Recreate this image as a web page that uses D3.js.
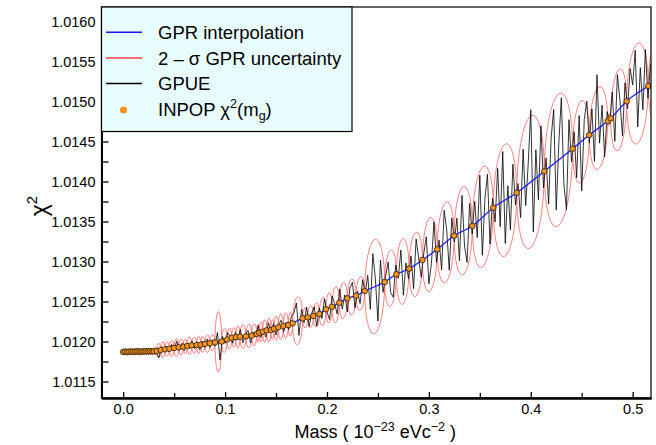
<!DOCTYPE html>
<html>
<head>
<meta charset="utf-8">
<script src="https://d3js.org/d3.v7.min.js"></script>
<style>
body { margin: 0; background: #fff; }
text { font-family: "Liberation Sans", Arial, sans-serif; fill: #000; }
</style>
</head>
<body>
<div id="chart-area"></div>
<script>

// INPOP chi2 points (mass in 1e-23 eV c^-2)
let inpopMass = [0.000, 0.002, 0.004, 0.006, 0.008, 0.010, 0.012, 0.014, 0.016, 0.018, 0.020, 0.022, 0.024, 0.026, 0.028, 0.030,
	0.0329, 0.0368, 0.0410, 0.0453, 0.0499, 0.0545, 0.0590, 0.0629, 0.0672, 0.0721, 0.0760, 0.0802, 0.0851, 0.0901,
	0.0966, 0.1020,
	0.1065, 0.1106, 0.1146, 0.1205, 0.1261, 0.1310, 0.1336, 0.1369, 0.1408, 0.1450, 0.1480, 0.1522, 0.1571, 0.1620, 0.1663,
	0.1761, 0.1811, 0.1866, 0.1925, 0.1990, 0.2049, 0.2121, 0.2199, 0.2285, 0.2370,
	0.2566, 0.2681, 0.2805, 0.2937, 0.3082, 0.3248, 0.3426, 0.3632, 0.3862, 0.4133, 0.4411, 0.4574, 0.4755, 0.4784, 0.4941, 0.5153, 0.5350];
let inpopChi2 = [1.011870, 1.011873, 1.011868, 1.011872, 1.011875, 1.011871, 1.011874, 1.011877, 1.011872, 1.011876, 1.011874, 1.011878, 1.011875, 1.011879, 1.011876, 1.011878,
	1.011881, 1.011894, 1.011903, 1.011910, 1.011919, 1.011928, 1.011935, 1.011944, 1.011953, 1.011956, 1.011960, 1.011969, 1.011978, 1.011989,
	1.012000, 1.012025,
	1.012048, 1.012054, 1.012060, 1.012065, 1.012073, 1.012094, 1.012110, 1.012123, 1.012140, 1.012144, 1.012160, 1.012178, 1.012194, 1.012206, 1.012228,
	1.012290, 1.012303, 1.012319, 1.012344, 1.012403, 1.012435, 1.012485, 1.012540, 1.012573, 1.012631,
	1.012744, 1.012840, 1.012910, 1.013019, 1.013153, 1.013323, 1.013444, 1.013673, 1.013860, 1.014128, 1.014410, 1.014581, 1.014756, 1.014790, 1.015003, 1.015194, 1.015369];

// 2-sigma half width of the GPR band between two neighbouring INPOP points
let bandHalf = [0.00004, 0.00004, 0.00004, 0.00004, 0.00004, 0.00004, 0.00004, 0.00004, 0.00004, 0.00004, 0.00004, 0.00004, 0.00004, 0.00004, 0.00004,
	0.00005,
	0.00009, 0.0001, 0.00009, 0.0001, 0.00011, 0.0001, 0.00009, 0.00011, 0.0001, 0.00011, 0.0001, 0.00011, 0.0001,
	0.00038, 0.00015, 0.00013,
	0.000125, 0.00014, 0.00015, 0.00015, 0.00014, 0.00011, 0.000125, 0.00014, 0.00015, 0.000125, 0.00015, 0.00016, 0.00016, 0.00015,
	0.0003,
	0.000125, 0.00014, 0.00015, 0.000175, 0.00019, 0.000225, 0.000225, 0.000225, 0.00021,
	0.00059,
	0.00035, 0.00041, 0.0004, 0.00046, 0.0005, 0.00055, 0.000625, 0.0007, 0.000825, 0.000825, 0.00051, 0.00051, 0.000075, 0.0005, 0.000625, 0.00056];

// GPUE curve, one value every 0.0025 starting at mass 0
let gpueStart = 0, gpueStep = 0.0025;
let gpueChi2 = [1.011870, 1.011886, 1.011861, 1.011892, 1.011858, 1.011884, 1.011854, 1.011890, 1.011865, 1.011896,
	1.011862, 1.011887, 1.011883, 1.011861, 1.011797, 1.011934, 1.011870, 1.011940, 1.011870, 1.011965,
	1.011889, 1.012004, 1.011888, 1.011977, 1.011887, 1.011982, 1.011913, 1.012008, 1.011910, 1.011997,
	1.011899, 1.012007, 1.011927, 1.012032, 1.011928, 1.012023, 1.011942, 1.012112, 1.011767, 1.012064,
	1.011976, 1.012109, 1.012061, 1.011979, 1.012113, 1.012027, 1.012150, 1.011983, 1.012096, 1.012139,
	1.011982, 1.012120, 1.012059, 1.012201, 1.012052, 1.012144, 1.012056, 1.012236, 1.012114, 1.012223,
	1.012081, 1.012209, 1.012266, 1.012123, 1.012240, 1.012149, 1.012311, 1.012355, 1.012481, 1.012076,
	1.012402, 1.012235, 1.012432, 1.012188, 1.012355, 1.012435, 1.012192, 1.012419, 1.012286, 1.012533,
	1.012369, 1.012275, 1.012570, 1.012476, 1.012342, 1.012658, 1.012406, 1.012583, 1.012371, 1.012670,
	1.012740, 1.012419, 1.012628, 1.012475, 1.012772, 1.012594, 1.012828, 1.012403, 1.013097, 1.012782,
	1.012256, 1.013020, 1.012615, 1.012810, 1.012992, 1.012613, 1.012554, 1.012955, 1.012790, 1.013144,
	1.012578, 1.012982, 1.012787, 1.013070, 1.012661, 1.013282, 1.013042, 1.012803, 1.013105, 1.013308,
	1.012721, 1.012974, 1.013497, 1.012990, 1.013268, 1.012894, 1.013639, 1.013395, 1.012891, 1.013546,
	1.013245, 1.013542, 1.013009, 1.013826, 1.013193, 1.012990, 1.013727, 1.013344, 1.013752, 1.013300,
	1.014078, 1.013076, 1.013784, 1.014091, 1.013219, 1.013787, 1.013494, 1.014164, 1.013435, 1.014375,
	1.013225, 1.013946, 1.013396, 1.014216, 1.013707, 1.013975, 1.013548, 1.014403, 1.013698, 1.014223,
	1.014897, 1.013372, 1.014397, 1.013772, 1.014696, 1.013921, 1.014295, 1.013720, 1.014546, 1.014901,
	1.013646, 1.014472, 1.015047, 1.013972, 1.013648, 1.014773, 1.014248, 1.014622, 1.014048, 1.014824,
	1.013881, 1.014777, 1.015003, 1.014484, 1.014908, 1.014252, 1.015336, 1.014480, 1.014954, 1.014309,
	1.014873, 1.014725, 1.015118, 1.014501, 1.015335, 1.015018, 1.014571, 1.015234, 1.014911, 1.015413,
	1.015206, 1.015638, 1.014681, 1.015423, 1.014896, 1.015648, 1.015041, 1.015466];

let xTicks = [0, 0.1, 0.2, 0.3, 0.4, 0.5];
let xMinorTicks = [0.05, 0.15, 0.25, 0.35, 0.45];
let yTicks = [1.0115, 1.0120, 1.0125, 1.0130, 1.0135, 1.0140, 1.0145, 1.0150, 1.0155, 1.0160];
let yMinorTicks = [1.01175, 1.01225, 1.01275, 1.01325, 1.01375, 1.01425, 1.01475, 1.01525, 1.01575];

// SVG size
let width = 656,
	height = 445;
let plot = {left: 101.5, right: 651, top: 7, bottom: 398};

let svg = d3.select("#chart-area")
	.append("svg")
	.attr("width", width)
	.attr("height", height);

let x = d3.scaleLinear()
	.domain([-0.0213, 0.518])
	.range([plot.left, plot.right]);
let y = d3.scaleLinear()
	.domain([1.011294, 1.016181])
	.range([plot.bottom, plot.top]);

svg.append("clipPath")
	.attr("id", "plot-clip")
	.append("rect")
	.attr("x", plot.left)
	.attr("y", plot.top)
	.attr("width", plot.right - plot.left)
	.attr("height", plot.bottom - plot.top);

let g = svg.append("g").attr("clip-path", "url(#plot-clip)");

let points = inpopMass.map((m, i) => ({m: m, chi: inpopChi2[i]}));

// red 2-sigma band: one lens between each pair of neighbouring points
let lenses = d3.pairs(points).map(([a, b], i) => ({a: a, b: b, half: bandHalf[i]}));
g.selectAll("ellipse.band")
	.data(lenses)
	.enter()
	.append("ellipse")
	.attr("class", "band")
	.attr("rx", d => (x(d.b.m) - x(d.a.m)) / 2)
	.attr("ry", d => y(d.a.chi) - y(d.a.chi + d.half))
	.attr("transform", d => {
		let x0 = x(d.a.m), x1 = x(d.b.m), y0 = y(d.a.chi), y1 = y(d.b.chi);
		let ang = Math.atan2(y1 - y0, x1 - x0) * 180 / Math.PI;
		return "translate(" + (x0 + x1) / 2 + "," + (y0 + y1) / 2 + ") skewY(" + ang + ")";
	})
	.attr("fill", "none")
	.attr("stroke", "#ff6262")
	.attr("stroke-width", 0.8)
	.attr("vector-effect", "non-scaling-stroke");

// GPUE
let gpue = gpueChi2.map((c, i) => ({m: gpueStart + i * gpueStep, chi: c}));
g.append("path")
	.datum(gpue)
	.attr("fill", "none")
	.attr("stroke", "#000")
	.attr("stroke-width", 0.8)
	.attr("d", d3.line().x(d => x(d.m)).y(d => y(d.chi)));

// GPR interpolation
g.append("path")
	.datum(points)
	.attr("fill", "none")
	.attr("stroke", "#1515ff")
	.attr("stroke-width", 1.2)
	.attr("d", d3.line().curve(d3.curveMonotoneX).x(d => x(d.m)).y(d => y(d.chi)));

g.selectAll("circle.inpop")
	.data(points)
	.enter()
	.append("circle")
	.attr("class", "inpop")
	.attr("cx", d => x(d.m))
	.attr("cy", d => y(d.chi))
	.attr("r", 2.8)
	.attr("fill", "#f39424")
	.attr("stroke", "#2e1a00")
	.attr("stroke-width", 0.8);

// frame
svg.append("rect")
	.attr("x", plot.left)
	.attr("y", plot.top)
	.attr("width", plot.right - plot.left)
	.attr("height", plot.bottom - plot.top)
	.attr("fill", "none")
	.attr("stroke", "#000")
	.attr("stroke-width", 1.2);

// axes (ticks point inward)
let xAxis = d3.axisBottom(x).tickValues(xTicks).tickFormat(d3.format(".1f"))
	.tickSizeInner(-6).tickSizeOuter(0).tickPadding(6);
let xMinor = d3.axisBottom(x).tickValues(xMinorTicks).tickFormat("")
	.tickSizeInner(-5).tickSizeOuter(0);
let yAxis = d3.axisLeft(y).tickValues(yTicks).tickFormat(d3.format(".4f"))
	.tickSizeInner(-7).tickSizeOuter(0).tickPadding(6);
let yMinor = d3.axisLeft(y).tickValues(yMinorTicks).tickFormat("")
	.tickSizeInner(-7).tickSizeOuter(0);

[xMinor, xAxis].forEach(ax => {
	svg.append("g")
		.attr("class", "axis x-axis")
		.attr("transform", "translate(0," + plot.bottom + ")")
		.call(ax);
});
[yMinor, yAxis].forEach(ax => {
	svg.append("g")
		.attr("class", "axis y-axis")
		.attr("transform", "translate(" + plot.left + ",0)")
		.call(ax);
});
svg.selectAll(".axis .domain").attr("stroke-width", 2);
svg.selectAll(".axis .tick line").attr("stroke-width", 1.3);
svg.selectAll(".axis text")
	.attr("font-size", "14.5px")
	.attr("font-family", "Liberation Sans, Arial, sans-serif");

// axis titles
let xTitle = svg.append("text")
	.attr("x", (plot.left + plot.right) / 2 - 1)
	.attr("y", 438)
	.attr("text-anchor", "middle")
	.attr("font-size", "18px");
xTitle.append("tspan").text("Mass ( 10");
xTitle.append("tspan").attr("dy", -7).attr("font-size", "12.5px").text("\u221223");
xTitle.append("tspan").attr("dy", 7).text(" eVc");
xTitle.append("tspan").attr("dy", -7).attr("font-size", "12.5px").text("\u22122");
xTitle.append("tspan").attr("dy", 7).text(" )");

let yTitle = svg.append("text")
	.attr("transform", "translate(47,206) rotate(-90)")
	.attr("text-anchor", "middle")
	.attr("font-size", "23px");
yTitle.append("tspan").text("\u03c7");
yTitle.append("tspan").attr("dy", -10).attr("font-size", "15px").text("2");

// legend
let legend = svg.append("g");
legend.append("rect")
	.attr("x", plot.left)
	.attr("y", plot.top)
	.attr("width", 250.5)
	.attr("height", 124.5)
	.attr("fill", "#e8fefe")
	.attr("stroke", "#000")
	.attr("stroke-width", 1.2);

let legendLabels = ["GPR interpolation", "2 \u2013 \u03c3 GPR uncertainty", "GPUE"];
let legendColors = ["#1515ff", "#ff4040", "#000"];
let rowY = [32.3, 58, 83.5, 110];

legendLabels.forEach((label, i) => {
	legend.append("line")
		.attr("x1", 106).attr("x2", 142)
		.attr("y1", rowY[i]).attr("y2", rowY[i])
		.attr("stroke", legendColors[i])
		.attr("stroke-width", 1.6);
	legend.append("text")
		.attr("x", 158)
		.attr("y", rowY[i] + 6.5)
		.attr("font-size", "18.5px")
		.text(label);
});
legend.append("circle")
	.attr("cx", 123.5)
	.attr("cy", rowY[3])
	.attr("r", 3.6)
	.attr("fill", "#f7941d");
let inpopLabel = legend.append("text")
	.attr("x", 158)
	.attr("y", rowY[3] + 6)
	.attr("font-size", "18.5px");
inpopLabel.append("tspan").text("INPOP \u03c7");
inpopLabel.append("tspan").attr("dy", -8).attr("font-size", "12.5px").text("2");
inpopLabel.append("tspan").attr("dy", 8).text("(m");
inpopLabel.append("tspan").attr("dy", 4).attr("font-size", "12.5px").text("g");
inpopLabel.append("tspan").attr("dy", -4).text(")");

</script>
</body>
</html>
